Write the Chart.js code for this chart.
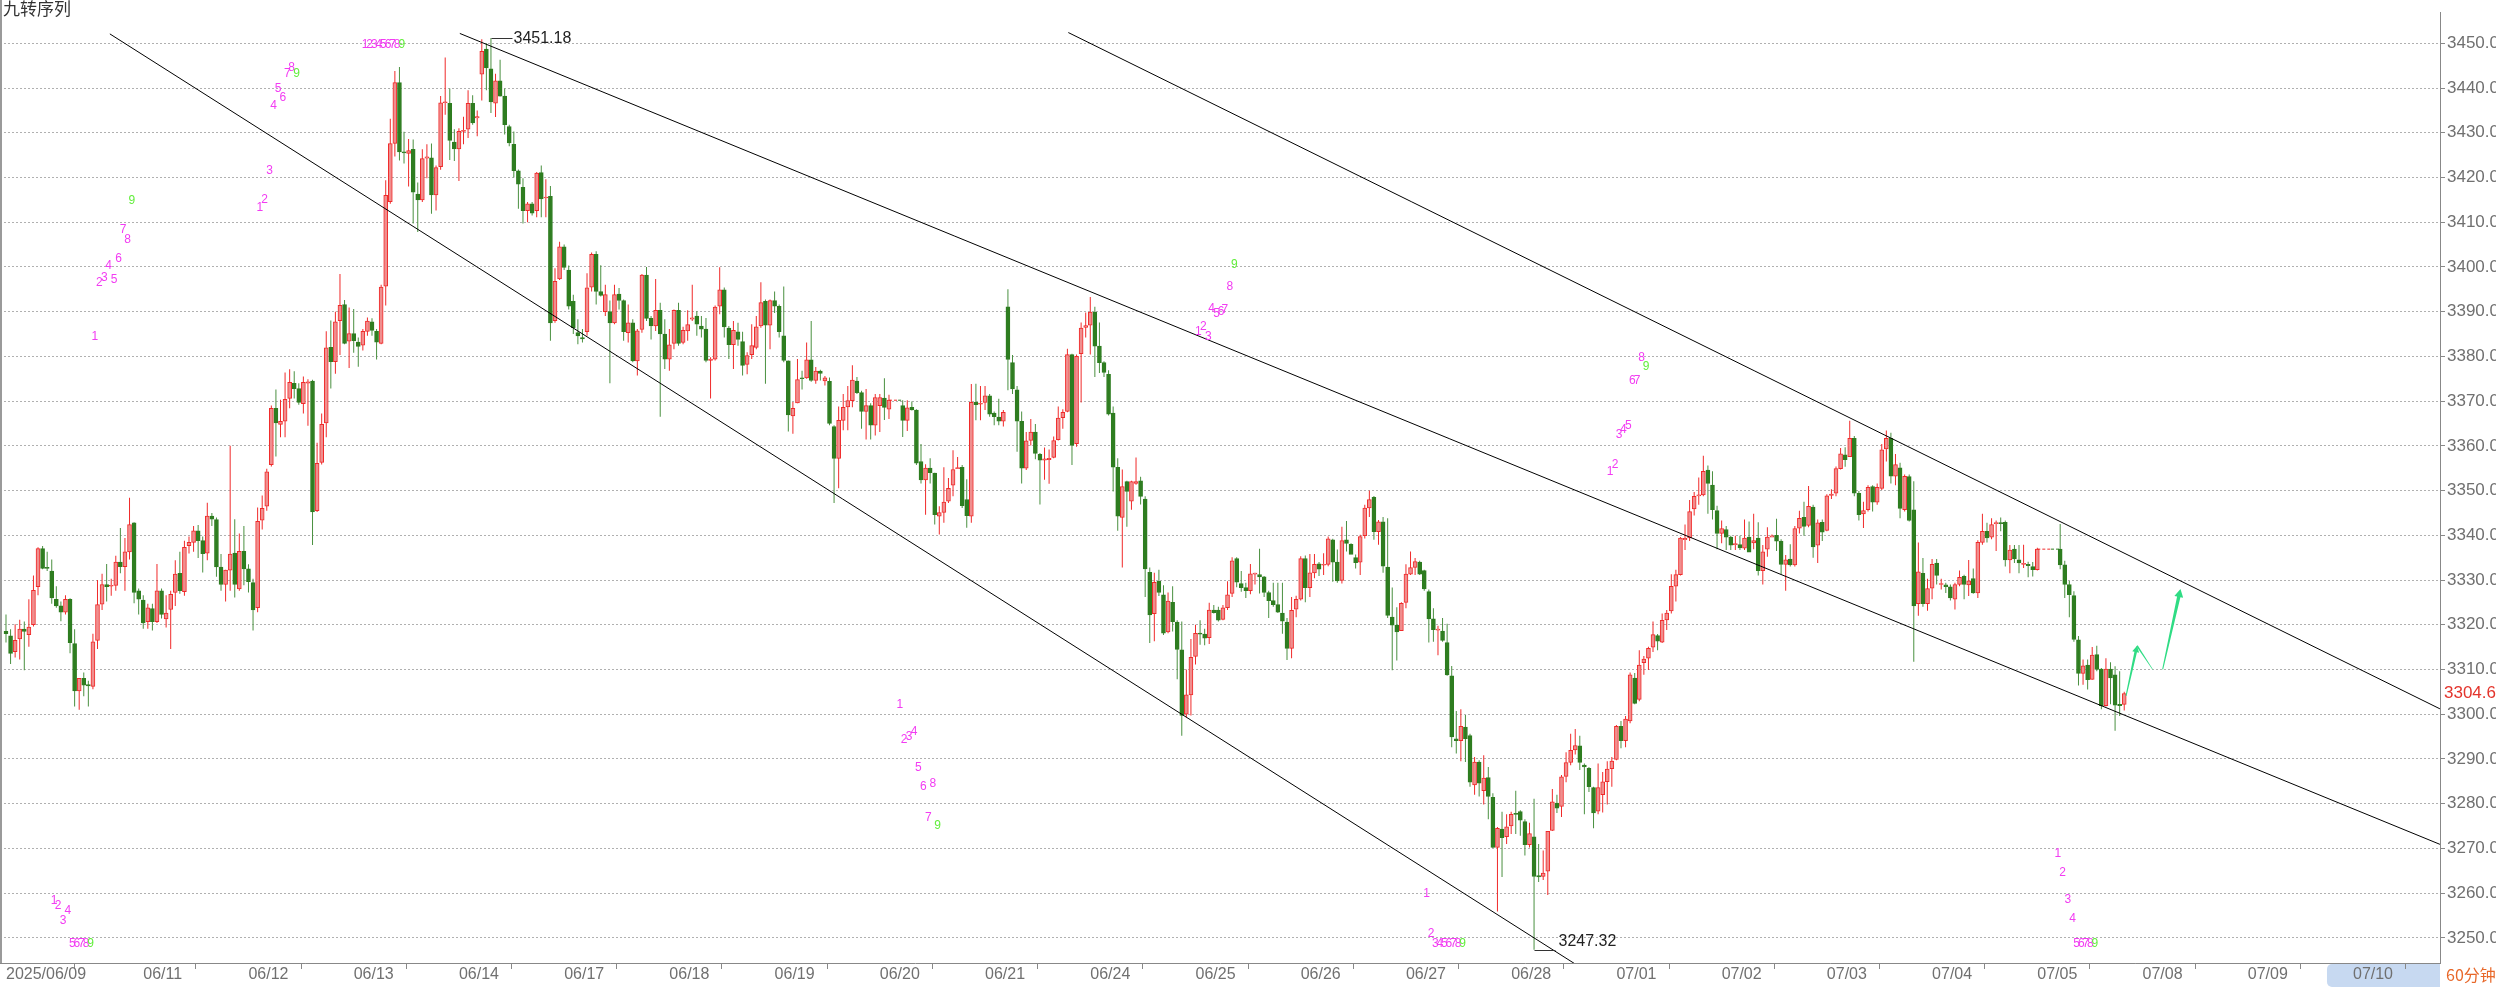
<!DOCTYPE html>
<html>
<head>
<meta charset="utf-8">
<style>
  html, body { margin: 0; padding: 0; background: #fff; overflow: hidden; }
  #wrap { width: 2496px; height: 988px; }
</style>
<script src="https://cdn.jsdelivr.net/npm/chart.js"></script>
</head>
<body>
<div id="wrap"><canvas id="kline" width="2496" height="988"></canvas></div>
<script>
// 60-minute bars, one value per bar (index 0 = first bar on the left)
const opens = [
3318.5,3317.5,3314.0,3316.8,3319.0,3317.8,3320.0,3328.5,3337.0,3332.8,
3332.0,3325.7,3324.2,3322.8,3325.7,3315.8,3305.2,3308.0,3306.6,3306.2,
3316.5,3324.6,3329.0,3328.6,3328.8,3334.0,3333.0,3336.3,3342.8,3327.6,
3325.5,3320.7,3323.6,3320.7,3327.6,3321.3,3323.4,3327.2,3331.5,3327.4,
3337.7,3338.4,3341.0,3338.8,3336.0,3344.3,3343.5,3332.9,3329.0,3332.2,
3336.0,3328.0,3336.4,3332.5,3329.4,3323.8,3343.4,3346.5,3355.8,3368.4,
3364.8,3365.5,3370.6,3374.0,3372.8,3369.4,3374.0,3374.5,3345.5,3356.3,
3365.1,3382.0,3378.8,3388.0,3391.6,3383.4,3385.1,3383.2,3382.5,3385.6,
3387.7,3385.6,3382.9,3395.7,3414.6,3427.6,3441.2,3425.6,3425.4,3426.3,
3416.3,3415.0,3424.3,3424.4,3416.1,3422.4,3436.7,3436.6,3427.9,3426.4,
3430.3,3430.8,3436.6,3433.3,3443.1,3448.7,3444.3,3436.6,3441.6,3438.2,
3431.4,3427.4,3421.5,3417.8,3412.6,3414.1,3412.6,3421.1,3415.4,3415.8,
3388.0,3397.3,3404.5,3399.3,3392.3,3385.3,3384.2,3385.5,3395.5,3402.8,
3394.5,3390.0,3390.0,3387.5,3393.9,3392.5,3385.3,3387.5,3379.0,3386.0,
3398.2,3388.5,3386.8,3390.3,3385.0,3379.4,3382.9,3390.3,3383.1,3385.7,
3388.3,3389.0,3386.8,3386.1,3379.1,3379.4,3391.2,3394.9,3386.3,3382.6,
3385.5,3383.3,3378.2,3380.4,3382.0,3386.8,3392.3,3387.0,3392.5,3391.2,
3384.6,3379.0,3366.7,3369.6,3375.2,3375.2,3379.2,3374.6,3376.7,3374.5,
3374.4,3364.3,3357.2,3365.7,3368.7,3370.1,3374.5,3371.9,3367.7,3369.0,
3364.6,3369.0,3370.7,3368.2,3370.2,3370.2,3369.0,3365.7,3368.6,3368.0,
3356.5,3352.4,3355.0,3353.9,3344.3,3345.1,3347.6,3351.2,3354.9,3355.2,
3348.0,3344.3,3369.7,3369.3,3369.7,3371.2,3367.3,3366.4,3365.5,3391.1,
3378.6,3372.5,3365.5,3355.0,3361.2,3363.1,3358.1,3356.8,3356.9,3357.4,
3361.4,3366.3,3367.7,3380.4,3360.5,3380.6,3386.5,3387.0,3389.9,3382.3,
3378.6,3376.0,3367.3,3355.2,3344.0,3352.0,3347.6,3351.6,3352.2,3348.1,
3331.7,3322.5,3329.7,3326.7,3318.4,3325.0,3320.6,3314.4,3300.0,3304.3,
3312.9,3318.1,3317.9,3317.1,3323.3,3323.3,3321.2,3323.8,3327.0,3334.8,
3329.2,3328.3,3327.6,3331.3,3331.2,3330.7,3327.2,3325.4,3324.5,3322.6,
3320.6,3314.7,3323.5,3325.7,3334.8,3328.3,3331.6,3333.6,3333.3,3333.5,
3339.0,3334.0,3329.9,3339.0,3338.0,3335.0,3334.0,3339.9,3346.1,3348.5,
3340.8,3343.0,3332.9,3321.7,3319.9,3318.7,3325.0,3331.3,3332.8,3334.0,
3332.1,3327.4,3321.3,3318.8,3318.6,3316.0,3308.6,3294.5,3294.1,3297.1,
3295.2,3284.2,3289.3,3282.9,3285.8,3281.4,3270.2,3274.3,3272.6,3275.0,
3277.8,3278.2,3276.0,3270.8,3272.6,3263.9,3263.7,3264.9,3274.0,3280.1,
3279.4,3286.1,3289.2,3292.0,3292.9,3288.6,3287.9,3283.6,3278.3,3282.0,
3284.9,3287.8,3289.9,3297.3,3294.1,3298.5,3308.1,3303.3,3311.5,3312.5,
3315.0,3317.6,3316.1,3321.1,3323.1,3328.6,3331.2,3339.0,3339.4,3345.9,
3348.8,3349.0,3354.6,3351.2,3345.5,3340.4,3341.3,3339.6,3337.9,3337.9,
3337.1,3339.6,3338.3,3339.4,3332.1,3336.9,3339.6,3340.0,3338.7,3333.5,
3334.7,3333.4,3341.6,3344.0,3342.2,3346.3,3337.8,3342.9,3341.1,3348.9,
3349.4,3354.9,3358.0,3357.6,3361.7,3349.4,3344.8,3345.7,3350.9,3347.4,
3350.5,3359.3,3361.7,3353.2,3355.1,3345.7,3353.1,3345.7,3324.7,3331.5,
3324.7,3328.2,3333.8,3329.0,3328.9,3328.5,3325.7,3329.0,3330.8,3328.9,
3330.3,3327.1,3338.4,3340.9,3339.6,3342.6,3342.8,3342.9,3334.5,3336.9,
3334.5,3333.5,3333.5,3333.0,3332.3,3336.9,3336.9,3336.9,3336.9,3336.9,
3333.4,3329.0,3326.5,3316.6,3309.1,3311.0,3307.8,3313.3,3310.1,3301.9,
3310.1,3308.8,3302.2,3302.2
];
const highs = [
3322.3,3319.0,3320.1,3321.1,3320.7,3325.7,3331.0,3337.3,3337.6,3336.3,
3334.6,3328.6,3325.2,3326.6,3325.9,3319.0,3308.0,3309.3,3307.5,3318.0,
3330.0,3331.4,3333.6,3330.3,3335.4,3341.6,3339.4,3348.4,3342.9,3328.1,
3326.6,3324.7,3324.7,3333.6,3328.1,3326.6,3327.6,3334.4,3336.3,3338.8,
3339.7,3342.1,3342.3,3339.7,3347.3,3345.0,3344.0,3335.8,3332.3,3360.0,
3343.6,3340.4,3342.1,3333.5,3330.3,3346.2,3348.9,3354.9,3369.0,3372.6,
3370.3,3376.4,3377.1,3376.7,3374.0,3375.5,3374.9,3374.8,3360.7,3367.2,
3385.6,3388.0,3390.0,3398.4,3392.6,3390.9,3390.6,3384.2,3386.1,3388.7,
3388.5,3386.1,3396.0,3419.4,3433.1,3443.8,3444.7,3430.2,3428.6,3428.5,
3418.9,3426.3,3427.4,3427.6,3422.7,3438.2,3446.8,3439.9,3430.8,3431.0,
3433.6,3439.5,3438.4,3435.0,3450.9,3450.0,3451.18,3443.2,3446.3,3439.9,
3431.8,3430.3,3421.8,3419.8,3414.5,3414.5,3421.2,3422.7,3419.6,3418.1,
3399.7,3405.6,3405.0,3400.3,3393.8,3388.3,3386.1,3398.6,3403.2,3403.5,
3400.4,3396.0,3392.5,3396.0,3395.3,3392.7,3391.6,3388.3,3386.1,3398.4,
3400.0,3389.0,3397.3,3392.0,3388.3,3386.1,3390.5,3392.0,3386.6,3390.3,
3396.0,3390.1,3389.0,3388.6,3379.8,3391.4,3399.9,3395.4,3386.8,3387.9,
3387.5,3385.5,3380.9,3387.2,3389.0,3396.6,3392.7,3392.7,3394.5,3391.6,
3395.6,3379.1,3369.8,3379.4,3376.8,3383.1,3387.9,3377.6,3377.0,3375.6,
3375.3,3364.6,3368.8,3371.6,3373.4,3378.0,3375.4,3372.3,3372.7,3369.5,
3371.6,3371.6,3375.1,3371.4,3370.2,3370.2,3370.2,3370.2,3369.9,3368.2,
3360.4,3355.9,3357.2,3354.0,3346.5,3355.2,3352.8,3359.0,3357.5,3355.7,
3352.5,3373.8,3373.9,3373.4,3373.4,3371.6,3367.7,3370.5,3368.0,3395.0,
3380.3,3373.4,3367.7,3363.1,3366.0,3364.9,3358.4,3359.6,3359.2,3362.1,
3368.8,3368.2,3381.7,3380.6,3380.4,3387.6,3389.8,3393.3,3391.1,3387.6,
3378.9,3376.9,3368.8,3357.2,3354.7,3352.2,3352.2,3357.4,3353.1,3348.7,
3332.8,3331.6,3332.3,3328.8,3327.2,3328.6,3321.0,3320.7,3310.0,3316.8,
3320.0,3321.0,3319.1,3324.9,3324.4,3324.0,3324.4,3329.7,3335.1,3335.1,
3332.0,3329.4,3333.6,3331.6,3337.0,3330.9,3327.6,3329.4,3329.4,3329.4,
3321.5,3326.2,3326.5,3335.3,3335.5,3335.8,3335.8,3334.0,3336.0,3339.7,
3339.2,3336.8,3341.9,3343.2,3338.2,3335.7,3340.1,3346.8,3350.0,3348.8,
3343.4,3344.1,3343.8,3328.3,3323.9,3325.0,3333.5,3336.4,3334.9,3334.3,
3332.3,3327.9,3323.7,3319.8,3321.5,3320.2,3310.8,3300.7,3301.1,3299.8,
3295.6,3290.4,3289.7,3290.8,3288.2,3282.3,3274.8,3278.2,3277.6,3278.2,
3282.9,3278.5,3276.5,3275.7,3281.1,3271.0,3269.5,3273.9,3283.3,3282.0,
3286.4,3291.5,3295.6,3296.7,3295.2,3289.0,3288.2,3283.8,3289.0,3287.1,
3289.5,3290.4,3297.6,3298.5,3299.6,3309.3,3309.2,3314.3,3313.0,3315.1,
3320.7,3317.9,3322.5,3323.3,3331.3,3332.3,3339.6,3342.4,3347.9,3349.7,
3352.9,3357.8,3355.6,3354.3,3346.6,3343.3,3342.1,3339.9,3339.9,3339.9,
3343.5,3343.1,3344.8,3342.9,3337.8,3341.8,3340.2,3343.7,3339.1,3335.6,
3338.0,3342.1,3345.5,3347.5,3351.0,3346.8,3343.5,3343.5,3349.2,3350.3,
3355.4,3359.5,3359.7,3365.6,3362.2,3349.9,3347.5,3351.2,3351.2,3351.6,
3360.4,3363.4,3362.9,3358.2,3356.2,3353.6,3353.6,3352.1,3338.4,3334.9,
3330.3,3334.7,3334.7,3330.3,3329.4,3329.0,3329.4,3332.1,3331.2,3334.5,
3332.6,3338.9,3344.8,3342.8,3343.8,3343.3,3344.0,3343.3,3337.8,3337.8,
3337.8,3337.9,3334.1,3334.0,3337.2,3336.9,3336.9,3336.9,3336.9,3342.5,
3334.3,3329.8,3327.5,3317.5,3312.2,3312.2,3315.0,3315.3,3310.3,3312.5,
3311.6,3310.7,3309.6,3305.0
];
const lows = [
3316.0,3311.2,3312.7,3312.2,3309.8,3315.1,3319.6,3326.6,3332.4,3332.0,
3324.7,3323.8,3320.8,3322.3,3313.6,3301.7,3301.0,3304.0,3301.7,3305.6,
3314.6,3323.3,3325.2,3326.5,3327.6,3331.5,3327.6,3334.6,3324.8,3322.3,
3319.1,3319.1,3318.7,3320.4,3321.4,3319.4,3314.6,3324.2,3326.9,3326.5,
3335.9,3336.3,3334.9,3331.7,3334.4,3342.1,3330.7,3327.6,3325.2,3327.6,
3326.1,3327.6,3328.8,3327.2,3318.7,3322.8,3341.3,3345.5,3355.4,3357.6,
3361.9,3361.9,3368.4,3370.6,3369.2,3367.2,3364.5,3337.8,3345.2,3355.8,
3361.9,3372.8,3376.1,3380.3,3382.7,3377.4,3380.8,3377.7,3381.3,3384.6,
3384.6,3379.3,3382.7,3391.4,3414.1,3424.7,3423.8,3423.1,3418.0,3409.7,
3407.8,3414.5,3419.8,3411.9,3412.6,3421.7,3434.0,3423.9,3423.7,3419.2,
3427.4,3428.8,3431.8,3429.2,3437.2,3439.5,3434.4,3433.5,3438.1,3429.6,
3427.0,3420.0,3413.0,3409.7,3410.0,3411.5,3411.1,3411.1,3411.1,3383.5,
3387.5,3397.1,3399.3,3390.5,3385.0,3382.7,3383.1,3384.6,3394.5,3391.6,
3393.4,3389.0,3374.0,3387.2,3390.5,3383.5,3383.1,3378.7,3375.7,3385.3,
3387.9,3383.8,3385.7,3366.5,3377.2,3376.8,3381.6,3382.4,3382.7,3383.5,
3387.9,3384.6,3384.2,3378.7,3370.6,3379.1,3389.4,3384.2,3379.4,3377.2,
3382.4,3375.7,3376.0,3379.4,3381.6,3386.4,3373.9,3381.6,3389.7,3384.2,
3378.7,3363.2,3362.7,3369.5,3372.6,3375.0,3374.3,3373.9,3374.6,3373.5,
3364.6,3347.2,3350.5,3363.5,3363.5,3368.6,3371.6,3363.8,3361.4,3361.4,
3362.3,3363.1,3365.8,3366.0,3370.2,3370.2,3362.0,3363.3,3367.9,3355.7,
3351.6,3344.6,3351.6,3342.4,3340.2,3342.8,3347.2,3348.7,3354.8,3346.1,
3341.7,3342.8,3365.7,3365.7,3368.0,3366.5,3364.6,3364.6,3364.3,3372.4,
3371.6,3358.7,3351.6,3354.6,3360.1,3357.0,3346.9,3352.4,3351.5,3357.2,
3361.2,3363.8,3367.5,3355.7,3359.8,3369.7,3384.2,3380.4,3375.4,3376.3,
3375.4,3366.8,3349.8,3341.0,3332.8,3341.9,3345.7,3351.3,3346.9,3326.2,
3315.9,3316.3,3326.4,3317.7,3318.1,3318.5,3307.8,3295.2,3299.3,3299.7,
3311.1,3315.5,3315.4,3315.7,3322.5,3320.7,3321.0,3323.3,3326.2,3328.4,
3327.4,3326.0,3326.8,3329.0,3327.0,3326.2,3321.5,3324.0,3322.6,3318.0,
3312.1,3312.5,3321.7,3325.4,3325.0,3326.2,3330.4,3330.9,3331.1,3333.1,
3329.6,3329.4,3329.2,3336.4,3335.8,3332.6,3331.1,3339.3,3344.1,3339.0,
3337.9,3331.6,3321.5,3309.8,3312.0,3318.6,3323.7,3331.1,3331.1,3331.1,
3327.6,3316.0,3316.2,3313.2,3316.2,3308.6,3292.6,3291.2,3289.5,3289.3,
3283.8,3282.0,3281.6,3279.8,3276.5,3270.1,3255.9,3263.6,3271.0,3273.2,
3273.2,3272.8,3268.4,3270.2,3247.32,3262.5,3262.9,3259.6,3273.9,3277.9,
3277.0,3284.8,3288.6,3291.0,3287.5,3277.6,3282.6,3274.5,3277.6,3278.0,
3279.8,3283.8,3289.7,3292.4,3292.6,3298.0,3302.2,3302.9,3308.8,3309.9,
3313.9,3314.3,3315.9,3318.8,3322.5,3325.2,3331.0,3336.7,3338.7,3344.4,
3346.8,3348.7,3344.8,3343.5,3336.9,3338.2,3336.7,3336.7,3336.7,3336.7,
3336.7,3336.7,3336.9,3331.0,3329.0,3335.2,3339.6,3336.5,3331.3,3327.6,
3333.0,3333.0,3340.4,3339.9,3341.8,3335.0,3333.8,3338.7,3340.9,3348.1,
3348.7,3354.7,3355.3,3357.5,3348.7,3343.3,3341.6,3345.3,3345.3,3346.8,
3350.1,3356.5,3351.6,3351.2,3343.8,3345.3,3343.1,3311.7,3322.0,3324.0,
3323.1,3325.7,3329.0,3327.9,3327.1,3325.4,3323.4,3328.6,3325.7,3326.4,
3326.9,3326.0,3337.9,3338.4,3339.1,3336.5,3340.9,3333.0,3331.5,3333.8,
3331.5,3332.7,3330.6,3330.8,3332.1,3336.9,3336.9,3336.9,3336.9,3332.4,
3326.0,3321.7,3316.2,3306.4,3306.6,3305.5,3307.7,3309.6,3301.1,3301.7,
3302.2,3296.3,3299.6,3300.8
];
const closes = [
3318.0,3313.6,3316.5,3319.0,3318.5,3319.5,3327.7,3337.0,3332.6,3332.6,
3326.0,3324.2,3322.8,3325.7,3316.0,3305.2,3308.0,3306.5,3306.3,3316.2,
3324.5,3329.0,3328.5,3328.8,3334.0,3333.0,3336.3,3342.4,3327.2,3325.7,
3320.4,3323.8,3320.7,3327.6,3322.3,3322.6,3326.8,3331.3,3327.6,3337.3,
3338.4,3341.0,3338.8,3335.9,3344.3,3343.6,3332.9,3329.0,3332.2,3335.8,
3329.0,3336.4,3332.5,3329.6,3323.3,3343.1,3346.0,3354.2,3368.4,3365.1,
3365.5,3370.4,3374.2,3372.8,3369.7,3374.2,3374.3,3345.2,3356.1,3364.8,
3381.9,3378.8,3387.7,3391.4,3382.9,3385.1,3383.5,3382.2,3385.6,3387.9,
3385.8,3383.2,3395.5,3416.0,3427.6,3441.2,3425.7,3425.5,3426.0,3416.7,
3415.0,3424.2,3424.6,3416.1,3422.2,3436.7,3436.9,3428.3,3426.4,3430.3,
3430.5,3436.6,3432.2,3433.6,3448.2,3444.5,3436.9,3441.6,3438.2,3431.8,
3427.7,3421.5,3418.5,3412.6,3414.1,3412.0,3421.0,3415.2,3415.5,3387.5,
3396.8,3404.5,3399.9,3391.2,3386.4,3384.6,3383.9,3395.3,3402.8,3394.5,
3393.6,3393.8,3387.5,3393.8,3392.5,3385.5,3387.5,3379.0,3385.7,3398.2,
3388.5,3386.8,3390.3,3385.0,3379.4,3382.6,3390.3,3382.9,3385.8,3387.1,
3388.6,3387.2,3386.1,3379.1,3379.4,3391.0,3394.9,3386.6,3382.6,3385.8,
3383.8,3378.0,3380.2,3382.4,3386.6,3392.0,3387.0,3392.5,3391.2,3385.5,
3379.1,3366.9,3368.4,3374.8,3375.0,3379.2,3374.6,3376.7,3376.2,3375.2,
3365.0,3357.2,3365.7,3368.6,3370.1,3374.7,3371.9,3367.7,3369.0,3364.6,
3370.8,3370.8,3368.6,3370.2,3370.2,3370.2,3365.7,3368.5,3368.0,3356.1,
3352.4,3355.0,3354.0,3344.6,3345.1,3347.4,3350.5,3354.7,3355.0,3346.6,
3344.4,3369.7,3369.2,3369.5,3371.2,3367.1,3366.5,3365.5,3367.5,3379.3,
3372.7,3365.5,3355.0,3361.1,3363.1,3358.3,3356.8,3357.1,3357.2,3361.2,
3366.2,3367.5,3380.4,3360.1,3380.0,3386.3,3386.9,3389.9,3382.3,3378.6,
3376.4,3367.1,3355.2,3344.3,3350.9,3349.8,3352.0,3352.0,3348.7,3332.5,
3322.2,3329.5,3327.2,3318.1,3325.3,3320.7,3314.5,3299.7,3304.3,3312.7,
3318.1,3317.9,3317.0,3323.3,3322.7,3321.0,3323.8,3326.7,3334.3,3329.5,
3328.3,3327.6,3331.4,3331.5,3330.7,3327.2,3325.4,3324.5,3322.8,3320.8,
3314.7,3323.2,3325.7,3334.8,3328.3,3331.6,3333.5,3332.4,3333.5,3339.2,
3334.0,3329.8,3338.8,3338.2,3335.7,3333.9,3339.7,3346.1,3348.0,3340.8,
3343.0,3333.1,3322.1,3319.9,3318.4,3324.8,3331.3,3332.8,3334.1,3331.3,
3328.0,3321.3,3318.9,3318.9,3316.5,3308.8,3294.9,3294.1,3297.3,3294.5,
3284.8,3289.3,3284.6,3285.7,3281.6,3270.2,3274.5,3272.4,3274.8,3277.6,
3277.6,3276.3,3270.8,3273.3,3263.7,3263.6,3264.5,3273.8,3280.4,3279.0,
3286.0,3289.2,3291.9,3293.0,3289.2,3288.2,3283.8,3277.9,3283.6,3284.9,
3287.7,3289.5,3297.3,3294.1,3298.9,3308.8,3302.4,3311.0,3312.3,3314.7,
3317.8,3316.3,3321.0,3322.6,3328.6,3331.2,3339.4,3339.3,3345.3,3348.7,
3349.0,3354.3,3351.6,3345.7,3340.4,3341.5,3339.6,3337.8,3338.1,3337.2,
3339.4,3336.2,3338.8,3332.1,3336.3,3339.6,3339.9,3338.7,3333.5,3334.5,
3333.4,3341.5,3343.8,3342.0,3346.5,3337.4,3342.8,3340.7,3348.8,3349.2,
3354.9,3358.2,3356.9,3361.7,3349.4,3344.6,3345.5,3350.7,3347.4,3350.7,
3359.1,3361.7,3353.2,3355.8,3346.0,3353.2,3343.3,3324.2,3331.8,3324.7,
3328.1,3333.5,3331.0,3329.1,3328.5,3326.0,3329.0,3330.6,3329.0,3329.8,
3327.1,3338.4,3340.9,3339.4,3342.4,3342.8,3342.6,3334.5,3336.7,3334.7,
3333.8,3333.6,3333.2,3332.3,3336.9,3336.9,3336.9,3336.9,3336.9,3333.4,
3329.0,3326.7,3316.7,3309.1,3310.8,3307.7,3313.2,3310.0,3301.9,3310.1,
3308.1,3302.0,3301.9,3304.63
];

// date ticks on the bar axis (bar index where each day starts)
const dayTicks = [0,30,53,76,99,122,145,168,191,214,237,260,283,306,329,352,375,398,421,444,467,490,513];
const dayLabels = ['2025/06/09','06/11','06/12','06/13','06/14','06/17','06/18','06/19','06/20','06/21',
  '06/24','06/25','06/26','06/27','06/28','07/01','07/02','07/03','07/04','07/05','07/08','07/09','07/10'];
const priceTicks = [3250,3260,3270,3280,3290,3300,3310,3320,3330,3340,3350,3360,3370,3380,3390,3400,3410,3420,3430,3440,3450];
const xRange = [-1.31, 532.02];
const yRange = [3244.37, 3456.95];

// 九转 count marks: bar position, price, digit
const tdX = [
  19.4,20.4,21.5,22.4,23.6,24.6,25.6,26.6,27.5,
  55.5,56.5,57.6,58.5,59.5,60.5,61.5,62.4,63.5,
  78.5,79.5,80.5,81.5,82.5,83.5,84.5,85.5,86.5,
  10.5,11.4,12.5,13.5,14.5,15.5,16.5,17.5,18.5,
  195.4,196.3,197.4,198.5,199.4,200.5,201.6,202.6,203.6,
  260.6,261.7,262.8,263.5,264.6,265.6,266.4,267.5,268.5,
  310.5,311.5,312.4,313.4,314.4,315.4,316.4,317.4,318.4,
  350.6,351.7,352.6,353.5,354.6,355.5,356.5,357.5,358.5,
  448.5,449.5,450.7,451.7,452.6,453.6,454.6,455.6,456.6
];
const tdY = [
  3384.5,3396.4,3397.7,3400.3,3397.2,3401.9,3408.4,3406.0,3414.9,
  3413.2,3415.1,3421.6,3436.0,3439.8,3437.8,3443.3,3444.5,3443.3,
  3449.7,3449.7,3449.7,3449.7,3449.7,3449.7,3449.7,3449.7,3449.7,
  3258.3,3257.1,3253.9,3256.0,3248.7,3248.7,3248.7,3248.7,3248.7,
  3302.1,3294.2,3294.9,3296.0,3288.0,3283.8,3276.8,3284.5,3275.0,
  3385.6,3386.7,3384.3,3390.7,3389.6,3390.1,3390.4,3395.5,3400.6,
  3259.8,3251.0,3248.7,3248.7,3248.7,3248.7,3248.7,3248.7,3248.7,
  3354.3,3355.7,3362.4,3363.5,3364.5,3374.5,3374.5,3379.8,3377.7,
  3268.9,3264.6,3258.5,3254.2,3248.7,3248.7,3248.7,3248.7,3248.7
];
const tdDigit = [
  '1','2','3','4','5','6','7','8','9', '1','2','3','4','5','6','7','8','9',
  '1','2','3','4','5','6','7','8','9', '1','2','3','4','5','6','7','8','9',
  '1','2','3','4','5','6','7','8','9', '1','2','3','4','5','6','7','8','9',
  '1','2','3','4','5','6','7','8','9', '1','2','3','4','5','6','7','8','9',
  '1','2','3','4','5','6','7','8','9'
];

// channel lines: [bar, price] end points
const trendA = [[22.7, 3452.1], [350, 3239.6]];
const trendB = [[99.2, 3452.2], [532, 3270.9]];
const trendC = [[232.2, 3452.4], [532, 3301.2]];

// forecast strokes after the last bar
const fcFromX = [463.4, 465.8, 471.4];
const fcFromY = [3304.1, 3315.3, 3310.0];
const fcToX = [465.8, 469.2, 475.3];
const fcToY = [3315.3, 3310.0, 3328.0];
const fcHead = [true, false, true];

const UP = '#f02a2a', UP_FILL = '#f08e8e', DOWN = '#2e7d20', DOWN_WICK = '#4a9040';

const isFlat = i => highs[i] === lows[i];
const isUp = i => closes[i] >= opens[i];

const wickData = [], bodyData = [];
for (let i = 0; i < opens.length; i++) {
  if (isFlat(i)) continue;
  wickData.push({x: i, y: [lows[i], highs[i]]});
  bodyData.push({x: i, y: [opens[i], closes[i]]});
}

// no-trade stretches are shown as a dashed level
const gapSets = [];
for (let i = 0; i < opens.length; i++) {
  if (isFlat(i) && (i === 0 || !isFlat(i - 1))) {
    let j = i;
    while (j + 1 < opens.length && isFlat(j + 1)) j++;
    const pts = [];
    for (let k = i - 1; k <= j + 1; k++) pts.push({x: k, y: closes[i]});
    gapSets.push({
      type: 'line', data: pts, pointRadius: 0, borderWidth: 1, borderDash: [3, 2], order: 1,
      segment: {borderColor: c => c.p0DataIndex < (pts.length - 1) / 2 ? UP : DOWN}
    });
    i = j;
  }
}

const lineSet = pts => ({
  type: 'line', data: pts.map(p => ({x: p[0], y: p[1]})),
  borderColor: '#000', borderWidth: 1, pointRadius: 0, order: 0
});

function taper(ctx, xs, ys, k) {
  const ax = xs.getPixelForValue(fcFromX[k]), ay = ys.getPixelForValue(fcFromY[k]);
  const bx = xs.getPixelForValue(fcToX[k]), by = ys.getPixelForValue(fcToY[k]);
  const dx = bx - ax, dy = by - ay, len = Math.hypot(dx, dy);
  const ux = dx / len, uy = dy / len, nx = -uy, ny = ux;
  const head = fcHead[k] ? (k === 0 ? 3.5 : 4.5) : 0;
  const w0 = fcHead[k] ? 1 : 1.6, w1 = fcHead[k] ? (k === 0 ? 2.6 : 3.4) : 0.6;
  const ex = bx - ux * head * 1.8, ey = by - uy * head * 1.8;
  ctx.beginPath();
  ctx.moveTo(ax + nx * w0 / 2, ay + ny * w0 / 2);
  ctx.lineTo(ex + nx * w1 / 2, ey + ny * w1 / 2);
  if (head) {
    ctx.lineTo(ex + nx * head, ey + ny * head);
    ctx.lineTo(bx, by);
    ctx.lineTo(ex - nx * head, ey - ny * head);
  } else {
    ctx.lineTo(bx, by);
  }
  ctx.lineTo(ex - nx * w1 / 2, ey - ny * w1 / 2);
  ctx.lineTo(ax - nx * w0 / 2, ay - ny * w0 / 2);
  ctx.closePath();
  ctx.fill();
}

const overlay = {
  id: 'overlay',
  beforeDraw(chart) {
    const {ctx, chartArea: a, scales: {x}} = chart;
    ctx.save();
    // highlight behind the last date label
    const hx = x.getPixelForValue(dayTicks[dayTicks.length - 1]) - 26;
    ctx.fillStyle = '#c7d9f1';
    ctx.beginPath();
    ctx.roundRect(hx, a.bottom + 1, a.right - hx, 23, [5, 0, 0, 5]);
    ctx.fill();
    ctx.restore();
  },
  afterDatasetsDraw(chart) {
    const {ctx, chartArea: a, scales: {x, y}} = chart;
    ctx.save();
    // count digits
    ctx.font = '12px "Liberation Sans Narrow", "Liberation Sans", sans-serif';
    ctx.textAlign = 'center';
    ctx.textBaseline = 'middle';
    for (let k = 0; k < tdX.length; k++) {
      ctx.fillStyle = tdDigit[k] === '9' ? '#62ee3c' : '#f23cf2';
      ctx.fillText(tdDigit[k], x.getPixelForValue(tdX[k]), y.getPixelForValue(tdY[k]));
    }
    // forecast arrows
    ctx.fillStyle = '#2fdc84';
    for (let k = 0; k < fcFromX.length; k++) taper(ctx, x, y, k);

    // extreme price marks
    const hiVal = Math.max(...highs), loVal = Math.min(...lows);
    const hiIdx = highs.indexOf(hiVal), loIdx = lows.indexOf(loVal);
    ctx.strokeStyle = '#333';
    ctx.lineWidth = 1;
    ctx.fillStyle = '#222';
    ctx.font = '16px "Liberation Sans", Arial, sans-serif';
    ctx.textAlign = 'left';
    let px = Math.round(x.getPixelForValue(hiIdx)) + 0.5, py = Math.round(y.getPixelForValue(hiVal)) + 0.5;
    ctx.beginPath(); ctx.moveTo(px, py); ctx.lineTo(px + 21, py); ctx.stroke();
    ctx.fillText(hiVal.toFixed(2), px + 22, py);
    px = Math.round(x.getPixelForValue(loIdx)) + 0.5; py = Math.round(y.getPixelForValue(loVal)) + 0.5;
    ctx.beginPath(); ctx.moveTo(px, py); ctx.lineTo(px + 21, py); ctx.stroke();
    ctx.fillText(loVal.toFixed(2), px + 24, py - 9);
    ctx.restore();
  },
  afterDraw(chart) {
    const {ctx, chartArea: a, scales: {y}} = chart;
    ctx.save();
    ctx.fillStyle = '#9a9a9a';
    ctx.fillRect(0, 0, 2, a.bottom);
    // title
    ctx.fillStyle = '#333';
    ctx.font = '17px "Noto Sans CJK SC", sans-serif';
    ctx.textAlign = 'left';
    ctx.textBaseline = 'top';
    ctx.fillText('九转序列', 3, 0);
    // last price on the price axis
    const last = closes[closes.length - 1];
    const ly = y.getPixelForValue(last);
    ctx.font = '17px "Liberation Sans", Arial, sans-serif';
    ctx.textBaseline = 'middle';
    ctx.fillStyle = '#fff';
    ctx.fillRect(a.right + 2, ly - 9, 60, 18);
    ctx.fillStyle = '#e3342c';
    ctx.fillText(last.toFixed(2), a.right + 4, ly);
    // period
    ctx.fillStyle = '#e8682a';
    ctx.font = '16px "Noto Sans CJK SC", sans-serif';
    ctx.fillText('60分钟', a.right + 6, a.bottom + 12);
    ctx.restore();
  }
};

new Chart(document.getElementById('kline'), {
  type: 'bar',
  data: {
    datasets: [
      {
        type: 'bar', data: wickData, grouped: false, barThickness: 1, order: 3, inflateAmount: 0,
        backgroundColor: c => (c.raw && isUp(c.raw.x)) ? UP : DOWN_WICK, borderWidth: 0
      },
      {
        type: 'bar', data: bodyData, grouped: false, barThickness: 4, minBarLength: 1, order: 2,
        borderSkipped: false, borderWidth: 1,
        backgroundColor: c => (c.raw && isUp(c.raw.x)) ? UP_FILL : DOWN,
        borderColor: c => (c.raw && isUp(c.raw.x)) ? UP : DOWN
      },
      ...gapSets,
      lineSet(trendA), lineSet(trendB), lineSet(trendC)
    ]
  },
  options: {
    responsive: false,
    animation: false,
    events: [],
    layout: {padding: 0},
    plugins: {legend: {display: false}, tooltip: {enabled: false}},
    scales: {
      x: {
        type: 'linear', position: 'bottom', min: xRange[0], max: xRange[1], offset: false,
        afterFit(s) { s.height = 25; },
        afterBuildTicks(s) { s.ticks = dayTicks.map(v => ({value: v})); },
        grid: {drawOnChartArea: false, tickLength: 6, color: '#888'},
        border: {color: '#888'},
        ticks: {
          align: 'start', autoSkip: false, maxRotation: 0, padding: -4, color: '#707070',
          font: {size: 16, family: '"Liberation Sans", Arial, sans-serif'},
          callback: (v, i) => dayLabels[i]
        }
      },
      y: {
        type: 'linear', position: 'right', min: yRange[0], max: yRange[1],
        afterFit(s) { s.width = 56; },
        afterBuildTicks(s) { s.ticks = priceTicks.map(v => ({value: v})); },
        grid: {color: '#b0b0b0', tickLength: 5, tickColor: '#888'},
        border: {color: '#888', dash: [2, 2]},
        ticks: {
          padding: 2, color: '#707070',
          font: {size: 17, family: '"Liberation Sans", Arial, sans-serif'},
          callback: v => v.toFixed(1)
        }
      }
    }
  },
  plugins: [overlay]
});
</script>
</body>
</html>
